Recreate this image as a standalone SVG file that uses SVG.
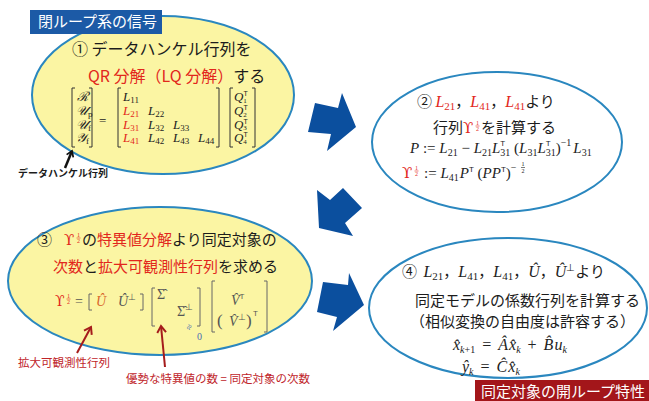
<svg xmlns="http://www.w3.org/2000/svg" width="649" height="401" viewBox="0 0 649 401">
<defs>
<style>
.ell{stroke:#2a87bf;stroke-width:2}
.yl{fill:#fbf5a3}
.wh{fill:#ffffff}
.jp{font-family:"Noto Sans CJK JP","Noto Sans",sans-serif;font-size:15px;fill:#1c1c1c}
.sm{font-family:"Noto Sans CJK JP","Noto Sans",sans-serif;font-size:11.5px;fill:#c0242a}
.mi{font-family:"Liberation Serif",serif;font-style:italic;fill:#222}
.mr{font-family:"Liberation Serif",serif;font-style:normal}
.up{font-family:"DejaVu Serif","Liberation Serif",serif;font-style:normal}
.red{fill:#e2271c}
.br{fill:none;stroke:#333;stroke-width:1}
.brg{fill:none;stroke:#666;stroke-width:1}
.barrow{fill:#0b4f9e}
.fr{font-family:"Liberation Serif",serif;font-size:6px;text-anchor:middle}
.tt{font-family:"Liberation Sans",sans-serif;font-size:8px;font-style:normal}
.t7{font-family:"Liberation Sans",sans-serif;font-size:7px;font-style:normal}
.g5{fill:#555}
</style>
<marker id="ab" viewBox="0 0 10 10" refX="7" refY="5" markerWidth="9" markerHeight="9" orient="auto" markerUnits="userSpaceOnUse"><path d="M1,1 L7,5 L1,9" fill="none" stroke="#111" stroke-width="2"/></marker>
<marker id="ar" viewBox="0 0 10 10" refX="7" refY="5" markerWidth="11" markerHeight="11" orient="auto" markerUnits="userSpaceOnUse"><path d="M1,1 L7,5 L1,9" fill="none" stroke="#a51c1c" stroke-width="1.8"/></marker>
</defs>
<rect width="649" height="401" fill="#ffffff"/>

<g id="connectors">
<polygon class="barrow" points="315,103 338,108 342,93 356,127 327,151 331,134 308,132"/>
<polygon class="barrow" points="317,190 330,200 343,188 362,208 345,223 353,236 319,228"/>
<polygon class="barrow" points="323,282 348,285 349,273 364,305 333,331 337,317 317,312"/>
</g>

<g id="node1">
<ellipse class="ell yl" cx="163" cy="95" rx="131" ry="79"/>
<rect x="30" y="10" width="132" height="24" fill="#1c5aa6"/>
<text x="38" y="27" class="jp" style="fill:#ffffff">閉ループ系の信号</text>
<text x="72" y="55" class="jp" style="font-size:16px">① データハンケル行列を</text>
<text x="88" y="82" class="jp" style="font-size:16px"><tspan class="red">QR 分解（LQ 分解）</tspan>する</text>
<path class="br" d="M75,88 h-3 v59 h3 M89,88 h3 v59 h-3 M121,88 h-3 v59 h3 M216,88 h3 v59 h-3 M233,88 h-3 v59 h3 M252,88 h3 v59 h-3"/>
<g font-size="13">
<text class="mi" x="77" y="101">ℛ</text>
<text class="mi" x="76" y="115">𝒰<tspan class="mr" font-size="9" dy="2">p</tspan></text>
<text class="mi" x="76" y="128.5">𝒰<tspan class="mr" font-size="9" dy="2">f</tspan></text>
<text class="mi" x="76" y="142">𝒴<tspan class="mr" font-size="9" dy="2">f</tspan></text>
<text class="mr" x="99" y="125" fill="#222">=</text>
<text class="mi" x="123" y="101">L<tspan class="mr" font-size="9" dy="2">11</tspan></text>
<text class="mi red" x="123" y="115">L<tspan class="mr" font-size="9" dy="2">21</tspan></text>
<text class="mi red" x="123" y="128.5">L<tspan class="mr" font-size="9" dy="2">31</tspan></text>
<text class="mi red" x="123" y="142">L<tspan class="mr" font-size="9" dy="2">41</tspan></text>
<text class="mi" x="148" y="115">L<tspan class="mr" font-size="9" dy="2">22</tspan></text>
<text class="mi" x="148" y="128.5">L<tspan class="mr" font-size="9" dy="2">32</tspan></text>
<text class="mi" x="148" y="142">L<tspan class="mr" font-size="9" dy="2">42</tspan></text>
<text class="mi" x="173" y="128.5">L<tspan class="mr" font-size="9" dy="2">33</tspan></text>
<text class="mi" x="173" y="142">L<tspan class="mr" font-size="9" dy="2">43</tspan></text>
<text class="mi" x="198" y="142">L<tspan class="mr" font-size="9" dy="2">44</tspan></text>
<text class="mi"><tspan x="234" y="101">Q</tspan><tspan class="t7" dy="-5">T</tspan><tspan class="mr" font-size="7" dx="-4.3" dy="6.5">1</tspan><tspan x="234" y="115">Q</tspan><tspan class="t7" dy="-5">T</tspan><tspan class="mr" font-size="7" dx="-4.3" dy="6.5">2</tspan><tspan x="234" y="128.5">Q</tspan><tspan class="t7" dy="-5">T</tspan><tspan class="mr" font-size="7" dx="-4.3" dy="6.5">3</tspan><tspan x="234" y="142">Q</tspan><tspan class="t7" dy="-5">T</tspan><tspan class="mr" font-size="7" dx="-4.3" dy="6.5">4</tspan></text>
</g>
<line x1="65" y1="168" x2="72" y2="151" stroke="#111" stroke-width="2.5" marker-end="url(#ab)"/>
<text x="18" y="177" class="jp" style="font-size:10px;font-weight:bold">データハンケル行列</text>
</g>

<g id="node2">
<ellipse class="ell wh" cx="497" cy="142" rx="125" ry="70"/>
<text x="417" y="107" class="jp">② <tspan class="mi red" font-size="16">L</tspan><tspan class="mr red" font-size="11" dy="3">21</tspan><tspan dy="-3">，</tspan><tspan class="mi red" font-size="16">L</tspan><tspan class="mr red" font-size="11" dy="3">41</tspan><tspan dy="-3">，</tspan><tspan class="mi red" font-size="16">L</tspan><tspan class="mr red" font-size="11" dy="3">41</tspan><tspan dy="-3">より</tspan></text>
<text x="433" y="133" class="jp">行列</text>
<text x="463" y="133" class="up red" font-size="15">ϒ</text>
<text class="fr red" x="477.5" y="125">1</text><line x1="475.5" y1="126" x2="479.5" y2="126" stroke="#e2271c" stroke-width="0.6"/><text class="fr red" x="477.5" y="131">2</text>
<text x="481" y="133" class="jp">を計算する</text>
<text x="410" y="153" class="mi" font-size="15">P<tspan class="mr"> := </tspan>L<tspan class="mr" font-size="10" dy="3">21</tspan><tspan class="mr" dy="-3"> − </tspan>L<tspan class="mr" font-size="10" dy="3">21</tspan><tspan dy="-3">L</tspan><tspan class="mr" font-size="10" dy="3">31</tspan><tspan class="tt" dx="-10" dy="-10">T</tspan><tspan class="mr" dx="5.1" dy="7"> (</tspan>L<tspan class="mr" font-size="10" dy="3">31</tspan><tspan dy="-3">L</tspan><tspan class="mr" font-size="10" dy="3">31</tspan><tspan class="tt" dx="-10" dy="-10">T</tspan><tspan class="mr" dx="5.1" dy="7">)</tspan><tspan class="mr" font-size="10" dy="-7">−1</tspan><tspan dx="2" dy="7">L</tspan><tspan class="mr" font-size="10" dy="3">31</tspan></text>
<text x="402" y="178" class="up red" font-size="15">ϒ</text>
<text class="fr red" x="416.5" y="170">1</text><line x1="414.5" y1="171" x2="418.5" y2="171" stroke="#e2271c" stroke-width="0.6"/><text class="fr red" x="416.5" y="176">2</text>
<text x="424" y="178" class="mi" font-size="15"><tspan class="mr">:= </tspan>L<tspan class="mr" font-size="10" dy="3">41</tspan><tspan dx="1" dy="-3">P</tspan><tspan class="tt" dy="-6">T</tspan><tspan class="mr" dy="6"> (</tspan>PP<tspan class="tt" dy="-6">T</tspan><tspan class="mr" dy="6">)</tspan><tspan class="mr" font-size="10" dy="-7">−</tspan></text>
<text class="fr" x="523" y="166" fill="#222">1</text><line x1="521" y1="167.5" x2="525" y2="167.5" stroke="#222" stroke-width="0.6"/><text class="fr" x="523" y="173" fill="#222">2</text>
</g>

<g id="node3">
<ellipse class="ell yl" cx="160" cy="281" rx="152" ry="74"/>
<text x="37" y="245" class="jp">③</text>
<text x="64" y="245" class="up red" font-size="15">ϒ</text>
<text class="fr red" x="78.5" y="237">1</text><line x1="76.5" y1="238" x2="80.5" y2="238" stroke="#e2271c" stroke-width="0.6"/><text class="fr red" x="78.5" y="243">2</text>
<text x="82" y="245" class="jp">の<tspan class="red">特異値分解</tspan>より同定対象の</text>
<text x="53" y="272" class="jp"><tspan class="red">次数</tspan>と<tspan class="red">拡大可観測性行列</tspan>を求める</text>
<text x="55" y="306" class="up red" font-size="14">ϒ</text>
<text class="fr red" x="68.5" y="298">1</text><line x1="66.5" y1="299" x2="70.5" y2="299" stroke="#e2271c" stroke-width="0.6"/><text class="fr red" x="68.5" y="304">2</text>
<text x="75" y="306" class="mr g5" font-size="14">=</text>
<path class="brg" d="M92,294 h-3 v16 h3 M140,294 h3 v16 h-3"/>
<text x="96" y="306" class="mi" font-size="14" style="fill:#d9652b">Û</text>
<text x="118" y="306" class="mi" font-size="14" style="fill:#555">Û<tspan class="mr" font-size="9" dy="-6">⊥</tspan></text>
<path class="brg" d="M155,288 h-3 v38 h3 M197,288 h3 v38 h-3"/>
<text x="157" y="299" class="mr g5" font-size="14">Σ̂</text>
<text x="177" y="316" class="mr g5" font-size="14">Σ̂<tspan font-size="9" dy="-6">⊥</tspan></text>
<text x="0" y="0" class="mr" font-size="10" style="fill:#4a6bb5" transform="translate(191,331) rotate(-65)">≈</text>
<text x="197" y="340" class="mr" font-size="10" style="fill:#4a6bb5">0</text>
<path class="brg" d="M215,281 h-3 v51 h3 M264,281 h3 v51 h-3"/>
<text x="231" y="305" class="mi" font-size="14" style="fill:#555">V̂<tspan class="tt" dy="-6" style="fill:#555">T</tspan></text>
<text x="217" y="326" class="mr g5" font-size="17">(</text>
<text x="229" y="326" class="mi" font-size="14" style="fill:#555">V̂<tspan class="mr" font-size="9" dy="-6">⊥</tspan></text>
<text x="246" y="326" class="mr g5" font-size="17">)</text>
<text x="253" y="316" class="tt g5">T</text>
<line x1="77" y1="353" x2="91" y2="327" stroke="#a51c1c" stroke-width="2" marker-end="url(#ar)"/>
<line x1="165" y1="367" x2="161" y2="326" stroke="#a51c1c" stroke-width="2" marker-end="url(#ar)"/>
<text x="18" y="367" class="sm">拡大可観測性行列</text>
<text x="126" y="383" class="sm">優勢な特異値の数 = 同定対象の次数</text>
</g>

<g id="node4">
<ellipse class="ell wh" cx="508" cy="308" rx="139" ry="70"/>
<text x="402" y="277" class="jp">④ <tspan class="mi" font-size="16" dx="3">L</tspan><tspan class="mr" font-size="11" dy="3">21</tspan><tspan dy="-3">，</tspan><tspan class="mi" font-size="16">L</tspan><tspan class="mr" font-size="11" dy="3">41</tspan><tspan dy="-3">，</tspan><tspan class="mi" font-size="16">L</tspan><tspan class="mr" font-size="11" dy="3">41</tspan><tspan dy="-3">，</tspan><tspan class="mi" font-size="16">Û</tspan>，<tspan class="mi" font-size="16">Û</tspan><tspan class="mr" font-size="10" dy="-6">⊥</tspan><tspan dy="6">より</tspan></text>
<text x="415" y="306" class="jp">同定モデルの係数行列を計算する</text>
<text x="410" y="327" class="jp">（相似変換の自由度は許容する）</text>
<text x="453" y="350" class="mi" font-size="16">x̂<tspan font-size="10" dy="3">k</tspan><tspan class="mr" font-size="10">+1</tspan><tspan class="mr" dx="3" dy="-3"> = </tspan><tspan dx="3">Â</tspan><tspan dx="1">x̂</tspan><tspan font-size="10" dy="3">k</tspan><tspan class="mr" dx="3" dy="-3"> + </tspan><tspan dx="3">B̂</tspan><tspan dx="1">u</tspan><tspan font-size="10" dy="3">k</tspan></text>
<text x="462" y="372" class="mi" font-size="16">ŷ<tspan font-size="10" dy="3">k</tspan><tspan class="mr" dx="3" dy="-3"> = </tspan><tspan dx="3">Ĉ</tspan><tspan dx="1">x̂</tspan><tspan font-size="10" dy="3">k</tspan></text>
<rect x="475" y="380" width="174" height="21" fill="#a3161a"/>
<text x="481" y="397" class="jp" style="fill:#ffffff">同定対象の開ループ特性</text>
</g>
</svg>
